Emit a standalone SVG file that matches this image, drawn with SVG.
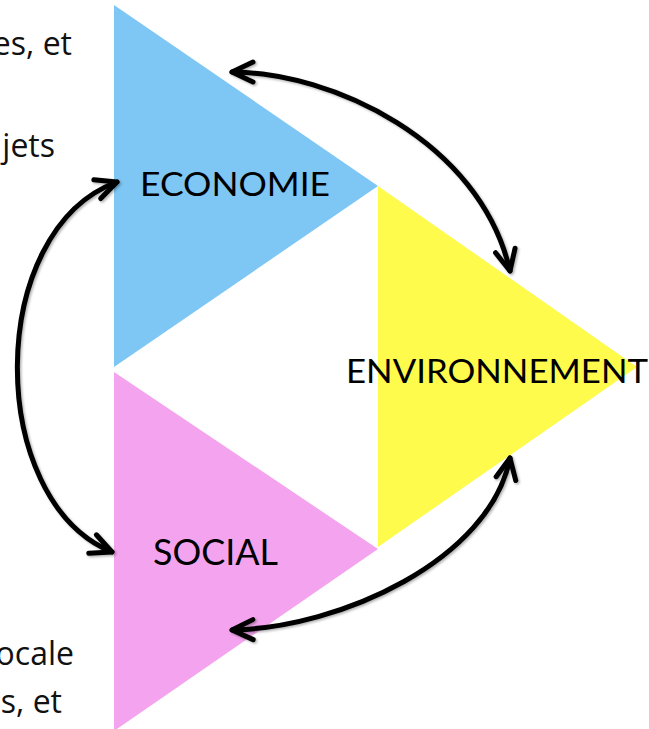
<svg xmlns="http://www.w3.org/2000/svg" width="649" height="729" viewBox="0 0 649 729">
<style>
.lbl{font-family:"Lato","Liberation Sans",sans-serif;fill:#000;}
.side{font-family:"Open Sans","Liberation Sans",sans-serif;font-size:32px;fill:#111;text-anchor:end;}
.conn{fill:none;stroke:#000;stroke-width:5;stroke-linecap:round;marker-start:url(#chev);marker-end:url(#chev);filter:url(#sh);}
</style>
<defs>
<marker id="chev" viewBox="-26 -13 30 26" refX="0" refY="0" markerWidth="30" markerHeight="26" markerUnits="userSpaceOnUse" orient="auto-start-reverse">
<path d="M-21,-10 L0,0 L-21,10" fill="none" stroke="#000" stroke-width="5" stroke-linecap="round" stroke-linejoin="round"/>
</marker>
<filter id="sh" x="-10%" y="-10%" width="120%" height="120%">
<feDropShadow dx="1.5" dy="1.5" stdDeviation="1.2" flood-color="#000" flood-opacity="0.3"/>
</filter>
</defs>
<rect width="649" height="729" fill="#fff"/>
<g id="side-texts">
<text class="side" x="72" y="55">es, et</text>
<text class="side" x="55" y="157">jets</text>
<text class="side" x="74" y="665">ocale</text>
<text class="side" x="62" y="713">s, et</text>
</g>
<g id="economie">
<polygon points="114,5 378,186 114,367" fill="#7EC6F4"/>
<text class="lbl" x="140" y="196" font-size="33" textLength="190" lengthAdjust="spacingAndGlyphs">ECONOMIE</text>
</g>
<g id="social">
<polygon points="114,372 378,549 114,731" fill="#F4A4EE"/>
<text class="lbl" x="153" y="565" font-size="37" textLength="125" lengthAdjust="spacingAndGlyphs">SOCIAL</text>
</g>
<g id="environnement">
<polygon points="378,186 637,367 378,547" fill="#FEFB4C"/>
<text class="lbl" x="346" y="383" font-size="33" textLength="302" lengthAdjust="spacingAndGlyphs">ENVIRONNEMENT</text>
</g>
<g id="connectors">
<path class="conn" d="M232,72 C330,72 480,140 510,271"/>
<path class="conn" d="M117,182 C-15,230 -15,500 112,552"/>
<path class="conn" d="M232,630 C340,628 490,560 510,458"/>
</g>
</svg>
